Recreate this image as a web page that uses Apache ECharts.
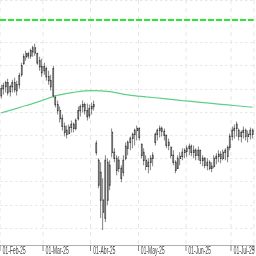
<!DOCTYPE html>
<html><head><meta charset="utf-8">
<script src="https://cdn.jsdelivr.net/npm/echarts/dist/echarts.min.js"></script>
<style>
html,body{margin:0;padding:0;background:#fff;overflow:hidden;}
#wrap{width:256px;height:256px;overflow:hidden;position:relative;background:#fff;}
#chart{width:512px;height:256px;transform:scaleX(0.5);transform-origin:0 0;}
</style></head><body>
<div id="wrap"><div id="chart"></div></div>
<script>
// Trading days per month (2025)
const febDays = [3,4,5,6,7,10,11,12,13,14,18,19,20,21,24,25,26,27,28];
const marDays = [3,4,5,6,7,10,11,12,13,14,17,18,19,20,21,24,25,26,27,28,31];
const aprDays = [1,2,3,4,7,8,9,10,11,14,15,16,17,21,22,23,24,25,28,29,30];
const mayDays = [1,2,5,6,7,8,9,12,13,14,15,16,19,20,21,22,23,27,28,29,30];
const junDays = [2,3,4,5,6,9,10,11,12,13,16,17,18,20,23,24,25,26,27,30];
const julDays = [1,2,3,7,8,9,10,11,14,15];
const monthDays = [febDays, marDays, aprDays, mayDays, junDays, julDays];
const monthNums = [2,3,4,5,6,7];
const monthLabels = ['01-Feb-25','01-Mar-25','01-Abr-25','01-May-25','01-Jun-25','01-Jul-25'];

// OHLC values
const openVals = [88.56,90.06,90.49,91.35,89.42,90.49,91.35,89.64,90.92,93.07,95.43,96.93,97.58,97.15,98.01,98.86,97.58,96.07,94.79,93.93,
94.36,92.64,91.78,94.36,88.13,86.63,85.34,83.63,81.91,81.05,80.41,81.70,82.34,81.48,83.63,85.34,86.20,86.63,85.34,84.27,
85.77,86.20,78.26,74.61,72.04,66.03,62.17,66.03,73.54,76.33,76.33,75.04,72.90,72.90,72.04,75.04,77.19,78.48,79.34,80.19,
81.05,81.48,78.05,76.33,74.61,73.33,74.19,75.04,78.48,80.19,81.05,81.48,80.84,79.98,77.83,77.40,75.69,74.19,72.90,75.04,
75.47,76.33,76.55,77.19,77.62,76.33,76.76,75.69,76.76,74.61,75.04,73.54,74.19,72.90,73.33,75.04,75.47,75.90,75.04,76.33,
75.47,77.40,79.77,81.05,81.48,81.05,79.77,80.62,81.05,79.77,80.19,81.05];
const highVals = [90.92,91.35,91.78,92.21,90.92,92.00,92.43,91.78,93.50,95.64,97.58,98.22,98.01,98.65,99.29,99.72,97.79,96.93,96.50,95.64,
94.79,93.93,93.07,95.00,88.56,87.49,86.20,84.49,82.77,82.13,82.34,83.20,82.77,83.63,86.20,86.63,87.49,87.06,86.85,86.63,
87.06,87.49,78.91,75.04,74.19,70.75,75.69,75.04,74.61,81.48,77.19,75.69,75.47,73.54,75.69,78.48,78.91,79.77,80.62,81.48,
82.13,81.70,78.26,77.19,75.69,75.04,75.69,76.33,80.62,81.48,82.13,81.91,81.48,80.19,79.34,77.62,76.76,74.61,75.69,76.33,
77.19,77.19,77.83,78.26,78.05,77.83,77.19,77.62,76.76,75.69,75.26,75.04,74.61,74.19,75.69,76.12,76.76,76.55,76.97,77.19,
77.83,80.41,81.91,82.34,82.98,81.48,81.05,81.91,81.48,81.05,81.70,81.48];
const lowVals = [87.92,88.78,89.21,88.56,88.35,89.21,89.21,88.56,90.06,92.64,95.22,96.07,96.50,96.50,96.93,97.15,95.22,93.93,92.64,93.07,
91.78,90.92,89.64,88.13,85.99,84.49,82.77,81.05,79.77,79.34,80.19,80.62,80.62,81.05,83.20,84.06,84.91,84.49,83.20,83.63,
84.49,85.34,75.69,68.61,62.17,59.59,61.31,64.96,68.18,75.26,74.19,71.40,72.04,69.89,71.18,74.61,75.69,76.76,77.19,77.83,
78.91,78.91,75.04,73.54,72.47,71.82,72.47,73.33,77.83,78.91,79.55,79.77,78.91,77.19,76.76,75.04,73.54,71.82,72.90,73.54,
74.61,75.04,75.26,75.69,75.47,75.04,74.61,74.61,73.76,73.33,72.90,72.47,72.47,72.04,72.90,73.76,74.19,73.97,74.61,74.61,
74.19,76.76,78.91,79.34,79.77,78.91,78.48,79.34,78.91,78.48,79.12,79.34];
const closeVals = [90.06,90.71,91.35,89.21,90.49,91.35,89.85,90.92,92.86,95.00,96.93,97.58,97.15,98.22,98.86,97.79,95.64,94.79,93.50,94.79,
92.64,91.78,90.49,88.56,86.63,85.34,83.63,81.91,80.62,80.19,81.70,82.34,81.48,83.20,85.34,86.20,86.63,85.34,84.06,85.77,
86.20,86.63,76.33,69.25,66.03,63.45,74.61,74.19,69.25,80.62,75.04,72.47,74.61,70.75,74.61,77.62,78.48,79.34,80.19,81.05,
81.48,79.55,75.69,74.61,73.33,74.19,75.04,75.69,80.19,81.05,81.48,80.84,79.98,77.83,78.48,75.69,74.19,72.47,75.04,75.47,
76.33,76.76,77.19,77.62,76.33,76.76,75.69,76.76,74.61,75.04,73.54,74.19,72.90,73.33,75.04,75.47,75.90,75.04,76.33,76.76,
77.40,79.77,81.05,81.48,82.34,79.77,80.62,81.05,79.77,80.19,81.05,80.19];

// Moving average, read at sample bars
const maIndex = [0,8,16,24,32,40,48,56,64,72,80,88,96,104,111];
const maVals  = [84.83,85.99,87.17,88.50,89.27,89.64,89.42,88.71,88.28,87.92,87.49,87.12,86.74,86.37,86.05];

// Dashed horizontal level
const levelValue = 104.81;

const dates = [];
const monthStartIdx = {};
monthDays.forEach((days, m) => {
  days.forEach((d, j) => {
    if (j === 0) monthStartIdx[dates.length] = monthLabels[m];
    dates.push('2025-' + String(monthNums[m]).padStart(2,'0') + '-' + String(d).padStart(2,'0'));
  });
});
const isMonthStart = (i) => monthStartIdx[i] !== undefined;

const candleData = openVals.map((o, i) => [o, closeVals[i], lowVals[i], highVals[i]]);
const maData = maIndex.map((idx, k) => [idx, maVals[k]]);

const chart = echarts.init(document.getElementById('chart'), null, {renderer:'canvas'});
chart.setOption({
  animation: false,
  backgroundColor: '#fff',
  grid: {left: 0, right: 0, top: -1, bottom: 11, containLabel: false},
  xAxis: {
    type: 'category', data: dates, boundaryGap: true,
    axisLine: {show: true, lineStyle: {color: '#b0b0b0', width: 1}},
    axisTick: {show: true, interval: isMonthStart, length: 6, lineStyle: {color: '#888', width: 2}},
    axisLabel: {interval: isMonthStart, formatter: (v, i) => monthStartIdx[i] || '', align: 'left', margin: 1,
      padding: [0,0,0,3], fontFamily: 'Liberation Sans', fontSize: 10, color: '#444'},
    splitLine: {show: true, interval: isMonthStart, lineStyle: {color: '#e6e6e6', width: 2, type: [4,4]}}
  },
  yAxis: {
    type: 'value', min: 56.37, max: 109.16, splitNumber: 10, position: 'right',
    axisLine: {show: false}, axisTick: {show: false}, axisLabel: {show: false},
    splitLine: {show: true, lineStyle: {color: '#e8e8e8', width: 1, type: [5,5]}}
  },
  series: [
    {
      type: 'line', data: maData, smooth: 0.4, symbol: 'none', connectNulls: true,
      lineStyle: {color: '#5ccf88', width: 1.2}, z: 2,
      markLine: {symbol: 'none', silent: true, label: {show: false}, animation: false,
        lineStyle: {color: '#2ee62e', width: 2, type: [12,4]}, data: [{yAxis: levelValue}]}
    },
    {
      type: 'candlestick', data: candleData, barWidth: 2.5, z: 3,
      itemStyle: {color: '#b8b8b8', color0: '#b8b8b8', borderColor: '#404040', borderColor0: '#404040', borderWidth: 1.3}
    }
  ]
});
</script>
</body></html>
